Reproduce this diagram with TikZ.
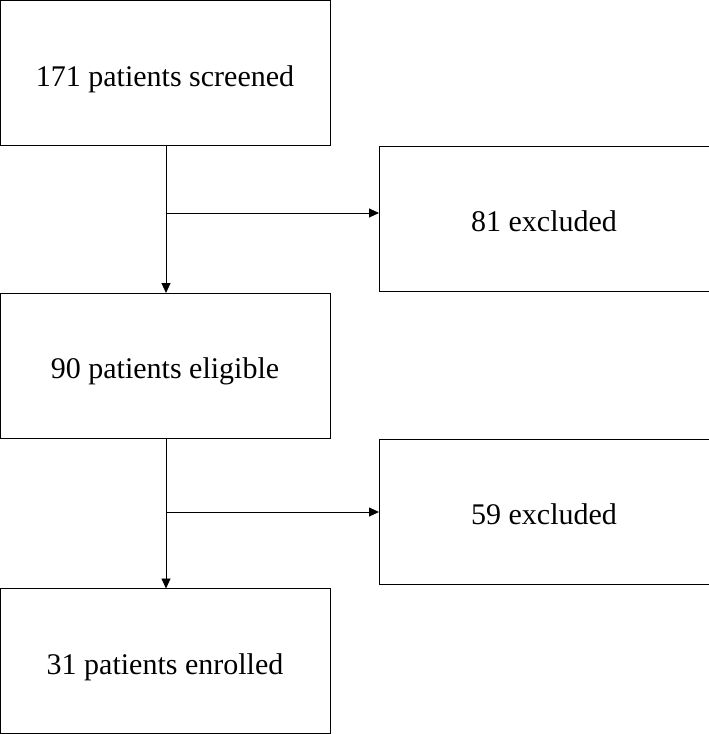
\documentclass[tikz,border=0pt]{standalone}
\usepackage{fontspec}
\setmainfont{Liberation Serif}
\usetikzlibrary{arrows.meta}

\begin{document}
\begin{tikzpicture}[>={Triangle[length=10pt,width=9pt]}, line width=0.9pt, x=1pt, y=1pt,
		box/.style={draw, rectangle, minimum width=330pt, minimum height=145pt,
			outer sep=0pt, inner sep=0pt, text height=26pt, text depth=0pt,
			font=\fontsize{30}{36}\selectfont}]
		\useasboundingbox (0, 0) rectangle (709, -734);

		\node[box] (screened) at (165, -73) {171 patients screened};
		\node[box] (excl1) at (544, -218.5) {81 excluded};
		\node[box] (eligible) at (165, -365.5) {90 patients eligible};
		\node[box] (excl2) at (544, -511.5) {59 excluded};
		\node[box] (enrolled) at (165, -661) {31 patients enrolled};

		\coordinate (b1) at (166, -213);
		\coordinate (b2) at (166, -512);

		\draw[->] (screened.south -| b1) -- (eligible.north -| b1);
		\draw[->] (b1) -- (excl1.west |- b1);

		\draw[->] (eligible.south -| b2) -- (enrolled.north -| b2);
		\draw[->] (b2) -- (excl2.west |- b2);
	\end{tikzpicture}
\end{document}
